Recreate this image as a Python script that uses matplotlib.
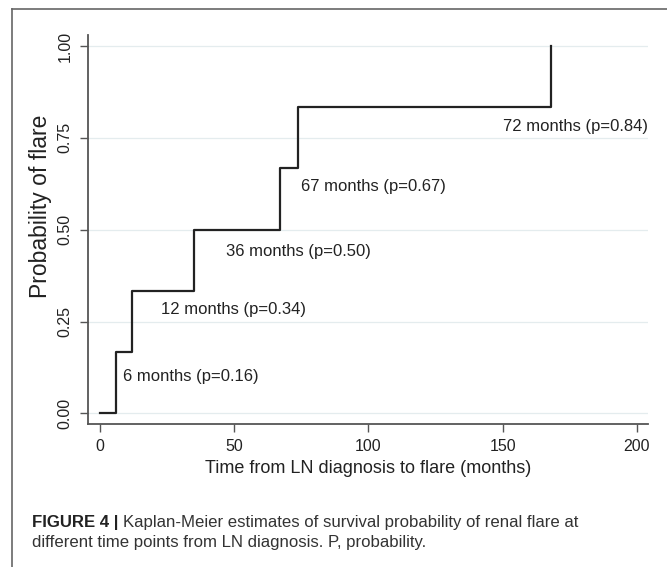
import matplotlib
matplotlib.use("Agg")
import matplotlib.pyplot as plt
from matplotlib.lines import Line2D

# Kaplan-Meier step data
times = [0, 6, 12, 35, 67, 74, 168]
probs = [0, 0.167, 0.333, 0.5, 0.667, 0.833, 1.0]

# annotation texts
annot_text = ["6 months (p=0.16)", "12 months (p=0.34)", "36 months (p=0.50)",
              "67 months (p=0.67)", "72 months (p=0.84)"]

x_ticks = [0, 50, 100, 150, 200]
y_ticks = [0, 0.25, 0.5, 0.75, 1.0]
y_ticklabels = ["0.00", "0.25", "0.50", "0.75", "1.00"]

plt.rcParams['font.family'] = ['Liberation Sans', 'DejaVu Sans']

AXIS_GREY = "#555555"
GRID = "#e4ecee"

fig = plt.figure(figsize=(6.67, 5.67), dpi=100)
fig.patch.set_facecolor("white")
ax = fig.add_axes([88 / 667, 1 - 424 / 567, 560 / 667, 389 / 567])

ax.step(times, probs, where="post", color="#222222", lw=1.6, zorder=3)

ax.set_xlim(-4.28, 204.1)
ax.set_ylim(-0.0286, 1.03)

ax.set_xticks(x_ticks)
ax.set_yticks(y_ticks)
ax.set_yticklabels(y_ticklabels, rotation=90, va="center")
ax.tick_params(axis="both", length=6, width=1.0, color=AXIS_GREY,
               labelsize=11.5, labelcolor="#222222")
ax.tick_params(axis="x", pad=5)
ax.tick_params(axis="y", pad=5)

for s in ["top", "right"]:
    ax.spines[s].set_visible(False)
for s in ["left", "bottom"]:
    ax.spines[s].set_color(AXIS_GREY)
    ax.spines[s].set_linewidth(1.3)

ax.grid(axis="y", color=GRID, lw=0.9, zorder=0)
ax.set_axisbelow(True)

ax.set_xlabel("Time from LN diagnosis to flare (months)", fontsize=13, color="#222222", labelpad=4)
ax.set_ylabel("Probability of flare", fontsize=16.5, color="#222222")
ax.yaxis.set_label_coords(-0.064, 0.56)

# label positions
annot_pos = [(8.6, 0.100, "left"), (22.9, 0.282, "left"), (47.1, 0.440, "left"),
             (74.9, 0.617, "left"), (204.0, 0.782, "right")]
for txt, (x, y, ha) in zip(annot_text, annot_pos):
    ax.text(x, y, txt, ha=ha, va="center", fontsize=12, color="#222222")

# outer frame around the figure
fig.add_artist(Line2D([12 / 667, 12 / 667], [0, 1 - 8.5 / 567], color="#666666", lw=1.2,
                      transform=fig.transFigure))
fig.add_artist(Line2D([12 / 667, 1], [1 - 8.5 / 567, 1 - 8.5 / 567], color="#666666", lw=1.2,
                      transform=fig.transFigure))

# caption
cap_size = 12.1
t1 = fig.text(32 / 667, 1 - 522 / 567, "FIGURE 4 |", fontsize=cap_size, fontweight="bold",
              va="center", color="#222222")
fig.canvas.draw()
bb = t1.get_window_extent()
x2 = (bb.x1 + 5) / fig.bbox.width
fig.text(x2, 1 - 522 / 567, "Kaplan-Meier estimates of survival probability of renal flare at",
         fontsize=cap_size, va="center", color="#333333")
fig.text(32 / 667, 1 - 543 / 567, "different time points from LN diagnosis. P, probability.",
         fontsize=cap_size, va="center", color="#333333")

fig.savefig("out.png", dpi=100)
